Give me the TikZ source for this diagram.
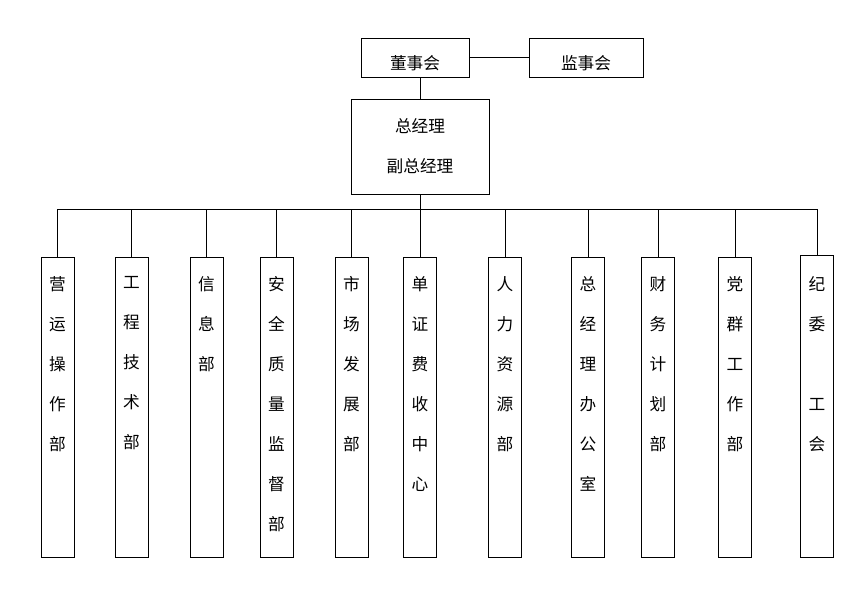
\documentclass[tikz,border=0pt]{standalone}
\usepackage{fontspec}
\newfontfamily\cjk{Noto Sans CJK SC}
\usepackage{tikz}
\usetikzlibrary{positioning}

\begin{document}
\begin{tikzpicture}[x=0.75pt, y=-0.75pt, line width=0.6pt,
    box/.style={draw, inner sep=0pt, align=center, font=\cjk\fontsize{12.5}{30}\selectfont},
    dept/.style={draw, anchor=north, inner sep=0pt, minimum width=24.75pt, minimum height=225pt},
    vtext/.style={inner sep=0pt, anchor=north, align=center, font=\cjk\fontsize{12.5}{30}\selectfont}]
    \useasboundingbox (0,0) rectangle (848,608);

    % top boxes
    \node[box, minimum width=81pt, minimum height=29.25pt] (dsh) at (415,57.5) {};
    \node[box, minimum width=85.5pt, minimum height=29.25pt] (jsh) at (586,57.5) {};
    \node[vtext, anchor=center, yshift=-4.5pt] (dsht) at (dsh) {董事会};
    \node[vtext, anchor=center, yshift=-4.5pt] (jsht) at (jsh) {监事会};
    \node[box, minimum width=103.5pt, minimum height=71.25pt] (zjl) at (420,146.5) {总经理\\副总经理};
    \coordinate (bus) at (420,209);

    \draw (dsh) -- (jsh);
    \draw (zjl.north) -- (zjl.north |- dsh.south);
    \draw (zjl.south) -- (zjl.south |- bus);

    % departments
    \node[dept] (yy) at (57.5,257) {};
    \node[dept] (gc) at (131.5,257) {};
    \node[dept] (xx) at (206.5,257) {};
    \node[dept] (aq) at (276.5,257) {};
    \node[dept] (sc) at (351.5,257) {};
    \node[dept] (dz) at (420,257) {};
    \node[dept] (rl) at (505,257) {};
    \node[dept] (bg) at (588,257) {};
    \node[dept] (cw) at (658,257) {};
    \node[dept] (dq) at (735,257) {};
    \node[dept, minimum height=226.5pt] (jw) at (817,255) {};

    \node[vtext, below=14.25pt of yy.north] (yyt) {营\\运\\操\\作\\部};
    \node[vtext, below=14.25pt of gc.north] (gct) {工\\程\\技\\术\\部};
    \node[vtext, below=14.25pt of xx.north] (xxt) {信\\息\\部};
    \node[vtext, below=14.25pt of aq.north] (aqt) {安\\全\\质\\量\\监\\督\\部};
    \node[vtext, below=14.25pt of sc.north] (sct) {市\\场\\发\\展\\部};
    \node[vtext, below=14.25pt of dz.north] (dzt) {单\\证\\费\\收\\中\\心};
    \node[vtext, below=14.25pt of rl.north] (rlt) {人\\力\\资\\源\\部};
    \node[vtext, below=14.25pt of bg.north] (bgt) {总\\经\\理\\办\\公\\室};
    \node[vtext, below=14.25pt of cw.north] (cwt) {财\\务\\计\\划\\部};
    \node[vtext, below=14.25pt of dq.north] (dqt) {党\\群\\工\\作\\部};
    \node[vtext, below=15.75pt of jw.north] (jwt) {纪\\委\\\mbox{}\\工\\会};

    % bus and drops
    \draw (yy.north |- bus) -- (jw.north |- bus);
    \draw (yy.north) -- (yy.north |- bus);
    \draw (gc.north) -- (gc.north |- bus);
    \draw (xx.north) -- (xx.north |- bus);
    \draw (aq.north) -- (aq.north |- bus);
    \draw (sc.north) -- (sc.north |- bus);
    \draw (dz.north) -- (dz.north |- bus);
    \draw (rl.north) -- (rl.north |- bus);
    \draw (bg.north) -- (bg.north |- bus);
    \draw (cw.north) -- (cw.north |- bus);
    \draw (dq.north) -- (dq.north |- bus);
    \draw (jw.north) -- (jw.north |- bus);
\end{tikzpicture}
\end{document}
